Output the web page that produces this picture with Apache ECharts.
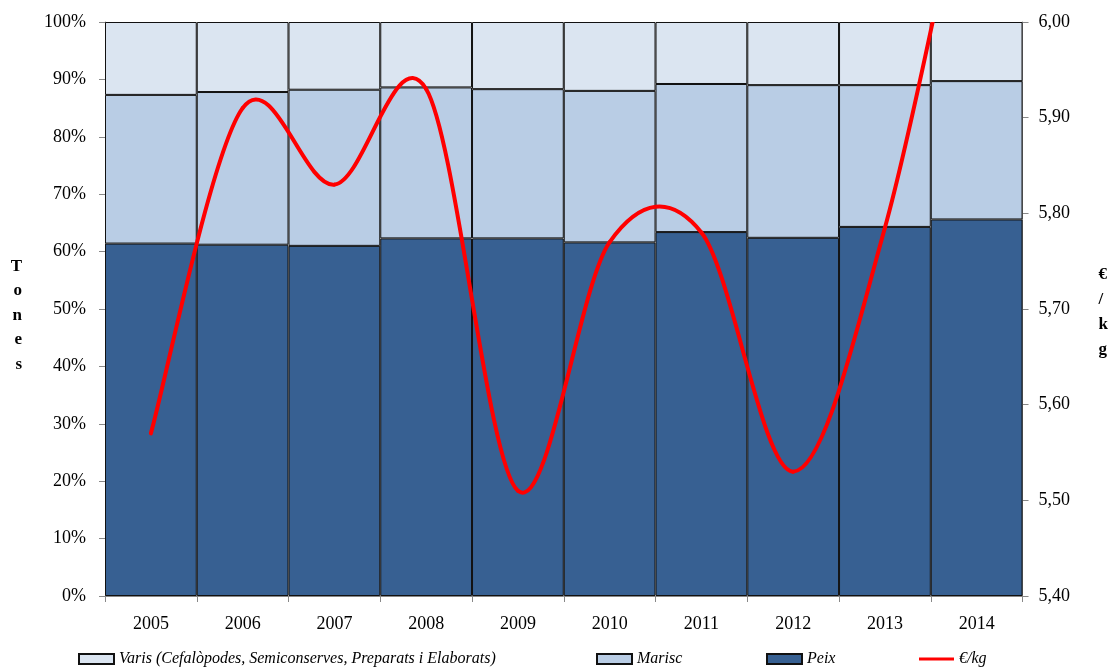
<!DOCTYPE html>
<html>
<head>
<meta charset="utf-8">
<script src="https://cdn.jsdelivr.net/npm/echarts@6/dist/echarts.min.js"></script>
<style>html,body{margin:0;padding:0;background:#fff}#c{width:1111px;height:670px}</style>
</head>
<body>
<div id="c"></div>
<script>
const years = ['2005','2006','2007','2008','2009','2010','2011','2012','2013','2014'];
const peix   = [61.4, 61.2, 61.0, 62.3, 62.3, 61.6, 63.4, 62.4, 64.3, 65.6];
const marisc = [25.9, 26.6, 27.2, 26.3, 26.0, 26.4, 25.8, 26.6, 24.7, 24.1];
const varis  = [12.7, 12.2, 11.8, 11.4, 11.7, 12.0, 10.8, 11.0, 11.0, 10.3];
const preu   = [5.57, 5.91, 5.83, 5.93, 5.51, 5.77, 5.78, 5.53, 5.785, 6.22];

const nameVaris = 'Varis (Cefalòpodes, Semiconserves, Preparats i Elaborats)';
const nameMarisc = 'Marisc';
const namePeix = 'Peix';
const namePreu = '€/kg';

const serif = '"Liberation Serif", "Times New Roman", serif';
const chart = echarts.init(document.getElementById('c'));
const legendBase = {
  top: 646, itemWidth: 35, itemHeight: 10, itemGap: 0, icon: 'rect',
  textStyle: {fontFamily: serif, fontStyle: 'italic', fontSize: 16, color: '#000'},
  selectedMode: false
};

// Smooth (Bezier) segment from point i to i+1, positions from the axes' scales
function renderPreu(params, api) {
  const i = params.dataIndex;
  const n = preu.length;
  if (i >= n - 1) return null;
  const pt = k => api.coord([k, preu[k]]);
  const P0 = pt(Math.max(i - 1, 0)), P1 = pt(i), P2 = pt(i + 1), P3 = pt(Math.min(i + 2, n - 1));
  const t = 1 / 6;
  return {
    type: 'bezierCurve',
    shape: {
      x1: P1[0], y1: P1[1], x2: P2[0], y2: P2[1],
      cpx1: P1[0] + (P2[0] - P0[0]) * t, cpy1: P1[1] + (P2[1] - P0[1]) * t,
      cpx2: P2[0] - (P3[0] - P1[0]) * t, cpy2: P2[1] - (P3[1] - P1[1]) * t
    },
    style: {stroke: '#FF0000', lineWidth: 4, fill: null, lineCap: 'round'}
  };
}

chart.setOption({
  animation: false,
  textStyle: {fontFamily: serif},
  grid: {left: 105, right: 87, top: 22, bottom: 74, containLabel: false},
  legend: [
    Object.assign({}, legendBase, {left: 73, data: [nameVaris]}),
    Object.assign({}, legendBase, {left: 591, data: [nameMarisc]}),
    Object.assign({}, legendBase, {left: 761, data: [namePeix]}),
    Object.assign({}, legendBase, {left: 914, itemHeight: 3, data: [namePreu]})
  ],
  xAxis: {
    type: 'category', data: years, boundaryGap: true,
    axisLine: {lineStyle: {color: '#888', width: 1}},
    axisTick: {show: true, length: 6, lineStyle: {color: '#888'}},
    axisLabel: {fontFamily: serif, fontSize: 18, color: '#000', margin: 19}
  },
  yAxis: [
    {
      type: 'value', min: 0, max: 100, interval: 10,
      name: '{s|}\nT\no\nn\ne\ns', nameLocation: 'middle', nameRotate: 0, nameGap: 83,
      nameTextStyle: {fontFamily: serif, fontWeight: 'bold', fontSize: 17, lineHeight: 24.5, color: '#000',
        rich: {s: {lineHeight: 13, fontSize: 1}}},
      axisLine: {show: true, lineStyle: {color: '#888'}},
      axisTick: {show: true, length: 6, lineStyle: {color: '#888'}},
      splitLine: {show: false},
      axisLabel: {fontFamily: serif, fontSize: 18, color: '#000', margin: 19, formatter: v => v + '%'}
    },
    {
      type: 'value', min: 5.4, max: 6.0, interval: 0.1, position: 'right',
      name: '{s|}\n€\n/\nk\ng', nameLocation: 'middle', nameRotate: 0, nameGap: 76,
      nameTextStyle: {fontFamily: serif, fontWeight: 'bold', fontSize: 17, lineHeight: 25, color: '#000',
        rich: {s: {lineHeight: 6, fontSize: 1}}},
      axisLine: {show: true, lineStyle: {color: '#888'}},
      axisTick: {show: true, length: 6, lineStyle: {color: '#888'}},
      splitLine: {show: false},
      axisLabel: {fontFamily: serif, fontSize: 18, color: '#000', margin: 16, formatter: v => v.toFixed(2).replace('.', ',')}
    }
  ],
  series: [
    {name: namePeix, type: 'bar', stack: 't', data: peix, barCategoryGap: '0%',
     itemStyle: {color: '#376092', borderColor: '#111', borderWidth: 1}},
    {name: nameMarisc, type: 'bar', stack: 't', data: marisc,
     itemStyle: {color: '#B9CDE5', borderColor: '#111', borderWidth: 1}},
    {name: nameVaris, type: 'bar', stack: 't', data: varis,
     itemStyle: {color: '#DBE5F1', borderColor: '#111', borderWidth: 1}},
    {name: namePreu, type: 'custom', yAxisIndex: 1, clip: true, z: 5,
     data: preu.map((v, i) => [i, v]),
     encode: {x: 0, y: 1},
     renderItem: renderPreu,
     itemStyle: {color: '#FF0000', borderWidth: 0}}
  ]
});
</script>
</body>
</html>
